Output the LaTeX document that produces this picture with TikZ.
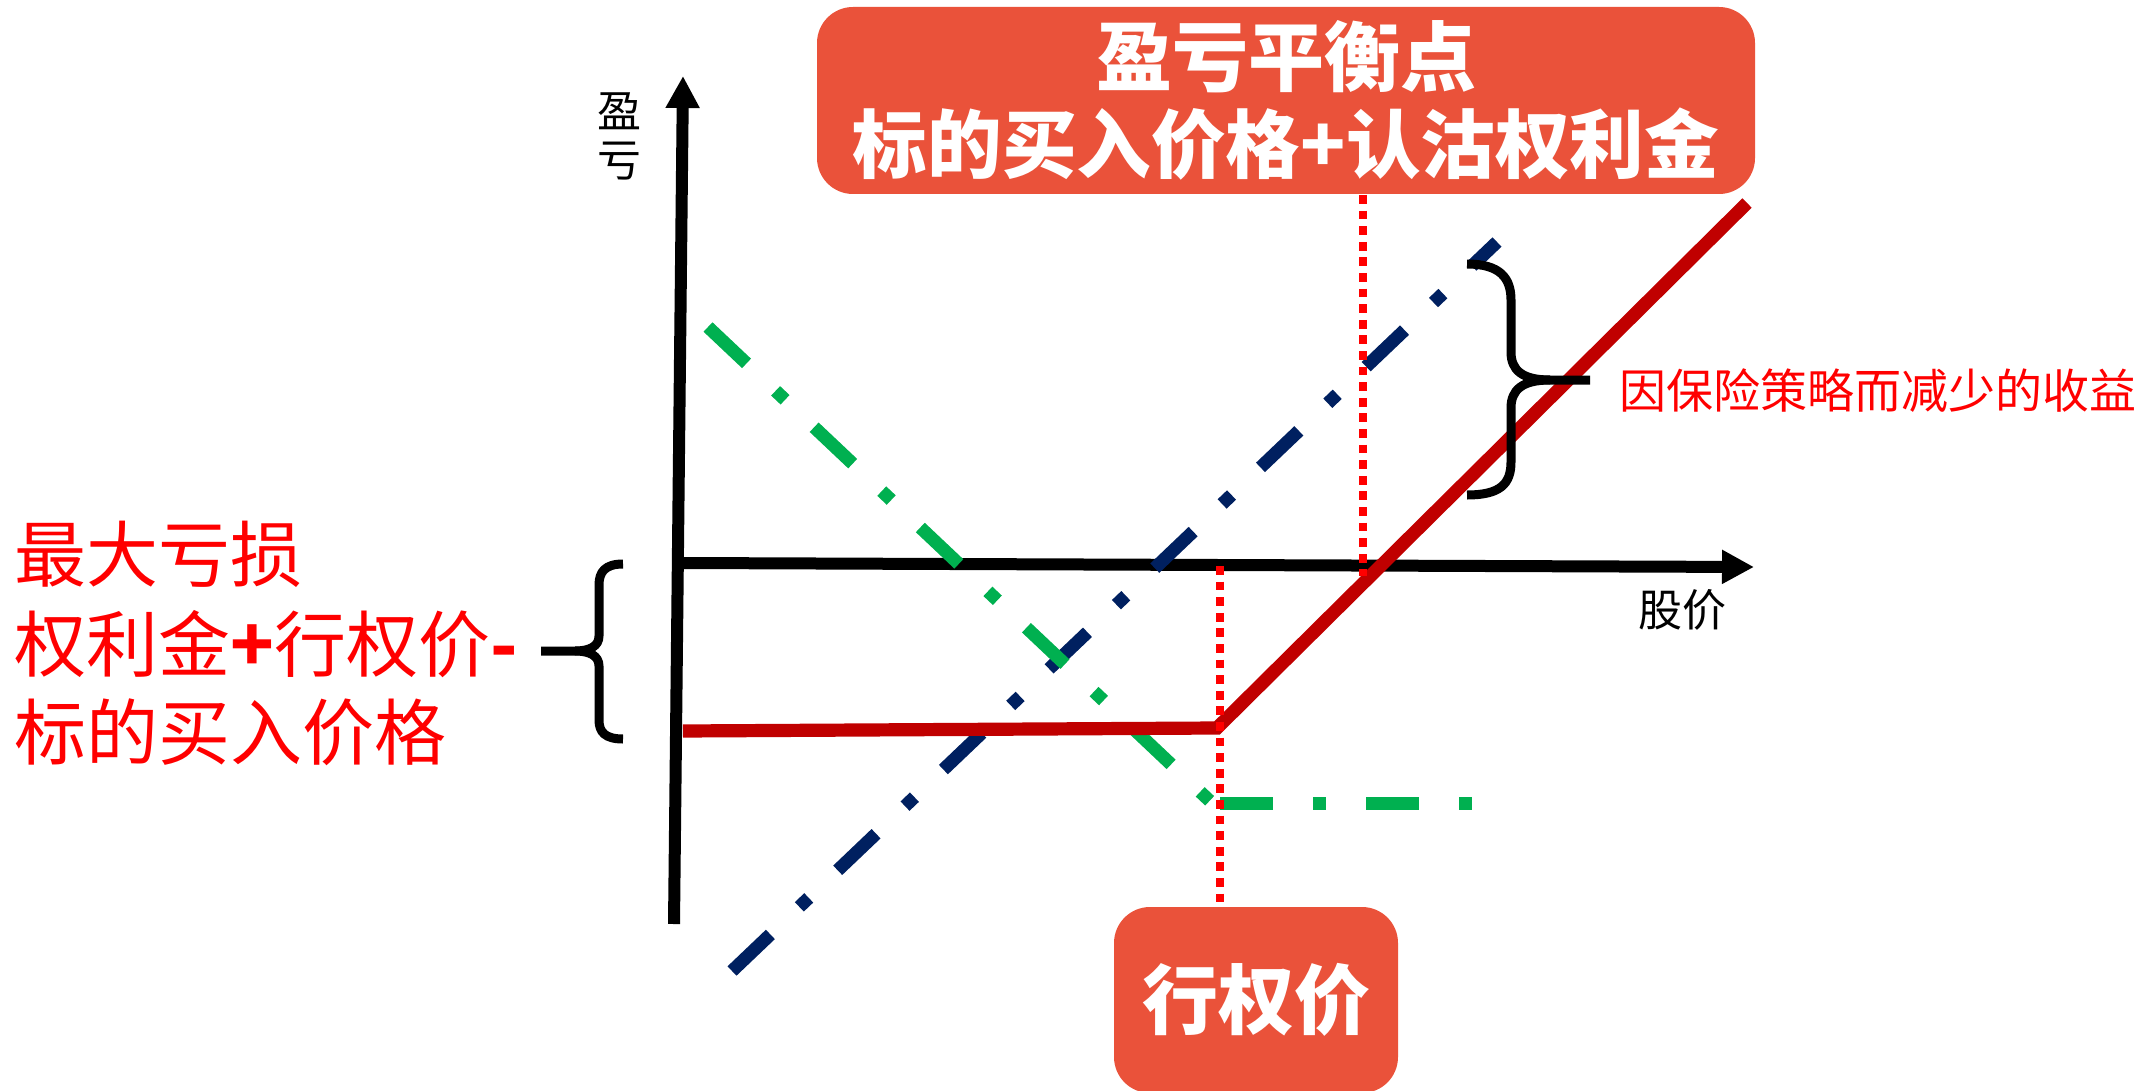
\documentclass[tikz,border=0pt]{standalone}
\usepackage{fontspec}
\setmainfont{Noto Sans CJK SC}
\usetikzlibrary{arrows.meta}
\definecolor{boxred}{RGB}{234,82,58}
\definecolor{payred}{RGB}{192,0,0}
\definecolor{navyline}{RGB}{0,32,96}
\definecolor{greenline}{RGB}{0,176,80}
\begin{document}
\begin{tikzpicture}[x=0.5pt,y=-0.5pt,
  axis/.style={line width=6pt,-{Triangle[length=16pt,width=16pt]}},
  dashdot/.style={line width=6.5pt, dash pattern=on 26.5pt off 20pt on 6.5pt off 20pt},
  guide/.style={red, line width=4.2pt, dash pattern=on 4.4pt off 3.4pt},
  bracestyle/.style={line width=4.5pt, line join=round},
  redbox/.style={fill=boxred, rounded corners=18pt, text=white, inner sep=0pt},
  redtext/.style={text=red, inner sep=0pt},
]
\useasboundingbox (0,0) rectangle (2146,1091);
% axes
\coordinate (yb) at (674,924);
\coordinate (yt) at (683,76);
\coordinate (xl) at (683,563);
\coordinate (xr) at (1754,567);
\draw[axis] (yb) -- (yt);
\draw[axis] (xl) -- (xr);
\node[font=\fontsize{22pt}{24.5pt}\selectfont, align=center, inner sep=0pt] (ylab) at (619,136) {盈\\亏};
\node[font=\fontsize{22pt}{22pt}\selectfont, inner sep=0pt] (xlab) at (1682,610) {股价};
% underlying (blue)
\coordinate (b1) at (732,971);
\coordinate (b2) at (1497,242);
\draw[dashdot, navyline] (b1) -- (b2);
% long put (green)
\coordinate (g1) at (708,327);
\coordinate (g2) at (1212,803);
\coordinate (g3) at (1220,803);
\coordinate (g4) at (1474,803);
\draw[dashdot, greenline] (g1) -- (g2);
\draw[dashdot, greenline] (g3) -- (g4);
% protective put payoff (red)
\coordinate (r1) at (683,731);
\coordinate (rk) at (1217,728);
\coordinate (r2) at (1747,203);
\draw[payred, line width=6.6pt] (r1) -- (rk) -- (r2);
% boxes
\node[redbox, minimum width=469pt, minimum height=93.5pt, align=center,
      font=\bfseries\fontsize{38pt}{43.5pt}\selectfont] (bep) at (1286,100.5)
      {盈亏平衡点\\{\fontsize{37.3pt}{43.5pt}\selectfont 标的买入价格+认沽权利金}};
\node[redbox, minimum width=142pt, minimum height=93pt,
      font=\bfseries\fontsize{38pt}{38pt}\selectfont] (strike) at (1256,1000) {行权价};
% guide lines
\coordinate (s1) at (1220,566);
\coordinate (s2) at (1220,907);
\coordinate (p1) at (1363,195);
\coordinate (p2) at (1363,576);
\draw[guide] (s1) -- (s2);
\draw[guide] (p1) -- (p2);
% right brace
\draw[bracestyle] (1467,264) .. controls (1500,264) and (1511,278) .. (1511,300) -- (1511,352)
   .. controls (1511,370) and (1522,380) .. (1550,380) -- (1590,380);
\draw[bracestyle] (1550,380) .. controls (1522,380) and (1511,390) .. (1511,408) -- (1511,462)
   .. controls (1511,484) and (1500,495) .. (1467,495);
\node[redtext, font=\fontsize{23.5pt}{23.5pt}\selectfont, anchor=west] (lesspay) at (1619,391) {因保险策略而减少的收益};
% left brace
\draw[bracestyle] (623,564) .. controls (605,564) and (599,572) .. (599,585) -- (599,636)
   .. controls (599,646) and (590,651) .. (575,651) -- (541,651);
\draw[bracestyle] (575,651) .. controls (590,651) and (599,656) .. (599,666) -- (599,720)
   .. controls (599,732) and (605,739) .. (623,739);
\node[redtext, font=\fontsize{36pt}{36pt}\selectfont, anchor=west] (ml1) at (14,554) {最大亏损};
\node[redtext, font=\fontsize{36pt}{36pt}\selectfont, anchor=west] (ml2) at (14,644) {权利金\textbf{+}行权价\textbf{-}};
\node[redtext, font=\fontsize{36pt}{36pt}\selectfont, anchor=west] (ml3) at (14,732) {标的买入价格};
\end{tikzpicture}
\end{document}
